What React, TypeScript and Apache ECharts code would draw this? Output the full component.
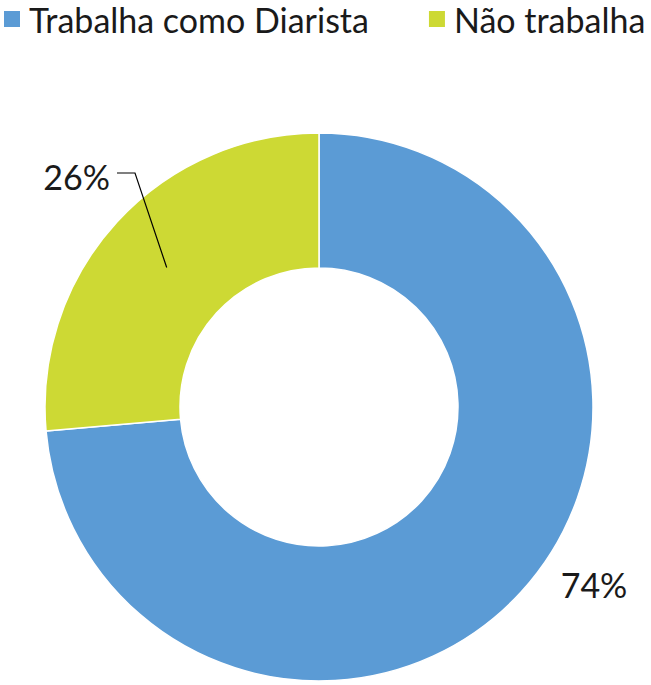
import React, { useEffect, useRef } from "react";
import * as echarts from "echarts";

const categories = ["Trabalha como Diarista", "Não trabalha"];
const values = [73.6, 26.4];
const colors = ["#5B9BD5", "#CDD934"];

const CX = 319;
const CY = 407;
const R_IN = 139;
const R_OUT = 274;

export default function App() {
  const ref = useRef<HTMLDivElement>(null);
  useEffect(() => {
    document.body.style.margin = "0";
    const chart = echarts.init(ref.current!, null, { renderer: "svg" });
    const total = values.reduce((a, b) => a + b, 0);
    // angle (math, degrees) of mid of each slice; pie starts at 90 and goes clockwise
    const mids: number[] = [];
    let acc = 0;
    values.forEach((v) => {
      const span = (v / total) * 360;
      mids.push(90 - acc - span / 2);
      acc += span;
    });
    const a = (mids[1] * Math.PI) / 180;
    const rm = (R_IN + R_OUT) / 2;
    const px = CX + rm * Math.cos(a);
    const py = CY - rm * Math.sin(a);
    const font = "Lato, 'Noto Sans', sans-serif";
    chart.setOption({
      animation: false,
      backgroundColor: "#ffffff",
      legend: {
        left: 2,
        top: 1,
        width: 800,
        padding: 0,
        itemWidth: 18,
        itemHeight: 18,
        itemGap: 58,
        icon: "rect",
        textStyle: {
          fontFamily: font,
          fontSize: 34,
          lineHeight: 34,
          color: "#1a1a1a",
          padding: [0, 0, 2, 3],
        },
        data: categories,
      },
      graphic: [
        {
          type: "polyline",
          z: 100,
          shape: {
            points: [
              [117, 173],
              [135, 173],
              [px, py],
            ],
          },
          style: { stroke: "#000000", lineWidth: 1.2, fill: "none" },
        },
      ],
      series: [
        {
          type: "pie",
          center: [CX, CY],
          radius: [R_IN, R_OUT],
          startAngle: 90,
          clockwise: true,
          avoidLabelOverlap: false,
          itemStyle: { borderColor: "#ffffff", borderWidth: 1.5 },
          label: {
            show: true,
            position: "outside",
            fontFamily: font,
            fontSize: 34,
            color: "#1a1a1a",
            formatter: (p: any) => Math.round(p.percent) + "%",
          },
          labelLine: { show: false },
          labelLayout: (p: any) => {
            if (p.dataIndex === 1) {
              return { x: 110, y: 176, align: "right", verticalAlign: "middle" };
            }
            return { x: 594, y: 584, align: "center", verticalAlign: "middle" };
          },
          data: categories.map((name, i) => ({
            name,
            value: values[i],
            itemStyle: { color: colors[i] },
          })),
        },
      ],
    });
    return () => chart.dispose();
  }, []);
  return (
    <div
      ref={ref}
      style={{ position: "fixed", left: 0, top: 0, width: 651, height: 685 }}
    />
  );
}
